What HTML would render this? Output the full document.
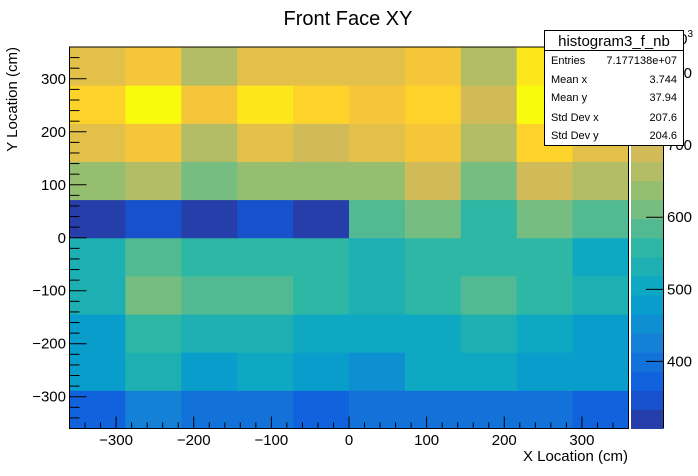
<!DOCTYPE html>
<html><head><meta charset="utf-8">
<style>
body{margin:0;background:#fff;}
svg{display:block;font-family:"Liberation Sans",Arial,sans-serif;}
</style></head>
<body>
<svg id="chart" width="698" height="476" viewBox="0 0 698 476">
  <text x="348" y="25" font-size="20" text-anchor="middle">Front Face XY</text>
  <g id="cells"></g>
  <g id="cbar"></g>
  <g id="axes"></g>
  <text x="628" y="461" font-size="15" text-anchor="end">X Location (cm)</text>
  <text transform="translate(17,47) rotate(-90)" font-size="15" text-anchor="end">Y Location (cm)</text>
  <text x="662" y="44" font-size="15">×10<tspan font-size="10" dy="-7">3</tspan></text>
  <g>
    <rect x="544.5" y="30.5" width="139" height="115" fill="#fff" stroke="#000" stroke-width="1"/>
    <line x1="544.5" y1="50.5" x2="683.5" y2="50.5" stroke="#000"/>
    <text x="614" y="46" font-size="15" text-anchor="middle">histogram3_f_nb</text>
    <g font-size="11">
      <text x="551" y="64">Entries</text><text x="677" y="64" text-anchor="end">7.177138e+07</text>
      <text x="551" y="83">Mean x</text><text x="677" y="83" text-anchor="end">3.744</text>
      <text x="551" y="101">Mean y</text><text x="677" y="101" text-anchor="end">37.94</text>
      <text x="551" y="121">Std Dev x</text><text x="677" y="121" text-anchor="end">207.6</text>
      <text x="551" y="139">Std Dev y</text><text x="677" y="139" text-anchor="end">204.6</text>
    </g>
  </g>
</svg>
<script>
const xEdges = [-360,-288,-216,-144,-72,0,72,144,216,288,360];
const yEdges = [-360,-288,-216,-144,-72,0,72,144,216,288,360];
// bin contents (x10^3), rows from bottom (y=-360) to top
const row0 = [373,426,400,400,373,400,400,400,400,373];
const row1 = [479,532,479,505,479,452,505,505,479,479];
const row2 = [479,558,532,532,505,505,505,532,505,479];
const row3 = [532,611,585,585,558,532,558,585,558,532];
const row4 = [532,585,558,558,558,532,558,558,558,505];
const row5 = [320,347,320,347,320,585,611,558,611,585];
const row6 = [638,664,611,638,638,638,691,611,691,664];
const row7 = [717,744,664,717,691,717,744,664,770,717];
const row8 = [770,823,744,796,770,744,770,691,823,717];
const row9 = [717,744,664,717,717,717,744,664,796,717];
const rows = [row0,row1,row2,row3,row4,row5,row6,row7,row8,row9];
const zRange = [307,836];
const xTicks = [-300,-200,-100,0,100,200,300];
const yTicks = [-300,-200,-100,0,100,200,300];
const zTicks = [400,500,600,700,800];

const L=69.5,R=628.5,T=47,B=428.5;
const sx=v=>L+(v+360)/720*(R-L);
const sy=v=>B-(v+360)/720*(B-T);
const nLev=20;
const sz=v=>B-(v-zRange[0])/(zRange[1]-zRange[0])*(B-T);

const st=[0,0.125,0.25,0.375,0.5,0.625,0.75,0.875,1];
const rr=[0.2082,0.0592,0.0780,0.0232,0.1802,0.5301,0.8186,0.9956,0.9764];
const gg=[0.1664,0.3599,0.5041,0.6419,0.7178,0.7492,0.7328,0.7862,0.9832];
const bb=[0.5293,0.8684,0.8385,0.7914,0.6425,0.4662,0.3499,0.1968,0.0539];
function bird(t){t=Math.max(0,Math.min(1,t));let i=0;while(i<7&&t>st[i+1])i++;const f=(t-st[i])/(st[i+1]-st[i]);
 const c=a=>Math.round(255*(a[i]+(a[i+1]-a[i])*f));return `rgb(${c(rr)},${c(gg)},${c(bb)})`;}
function levColor(v){let lev=Math.floor((v-zRange[0])/(zRange[1]-zRange[0])*nLev);lev=Math.max(0,Math.min(nLev-1,lev));return bird((lev+1)/nLev);}

const NS="http://www.w3.org/2000/svg";
function mk(tag,attrs,parent){const e=document.createElementNS(NS,tag);for(const k in attrs)e.setAttribute(k,attrs[k]);parent.appendChild(e);return e;}
const cells=document.getElementById('cells');
rows.forEach((row,j)=>row.forEach((v,i)=>{
  const x0=sx(xEdges[i]),x1=sx(xEdges[i+1]),y0=sy(yEdges[j+1]),y1=sy(yEdges[j]);
  const r=mk('rect',{x:x0,y:y0,width:x1-x0+0.5,height:y1-y0+0.5,fill:levColor(v)},cells);
  
  
}));
const cbar=document.getElementById('cbar');
for(let k=0;k<nLev;k++){
  const z0=zRange[0]+k*(zRange[1]-zRange[0])/nLev,z1=zRange[0]+(k+1)*(zRange[1]-zRange[0])/nLev;
  const r=mk('rect',{x:631,y:sz(z1),width:32,height:sz(z0)-sz(z1)+0.5,fill:bird((k+1)/nLev)},cbar);
  
  
}
mk('line',{x1:663.5,y1:T,x2:663.5,y2:B,stroke:'#000'},cbar);
zTicks.forEach(z=>{const y=sz(z);
  mk('line',{x1:646,y1:y,x2:663.5,y2:y,stroke:'#000'},cbar);
  const t=mk('text',{x:667,y:y+5,'font-size':15},cbar);t.textContent=z;
  
  
});
const ax=document.getElementById('axes');
mk('rect',{x:L,y:T,width:R-L,height:B-T,fill:'none',stroke:'#000'},ax);
for(let v=-360;v<=360;v+=20){const x=sx(v);const major=v%100===0;
  mk('line',{x1:x,y1:B,x2:x,y2:B-(major?12:6),stroke:'#000'},ax);}
for(let v=-360;v<=360;v+=20){const y=sy(v);const major=v%100===0;
  mk('line',{x1:L,y1:y,x2:L+(major?17:10),y2:y,stroke:'#000'},ax);}
xTicks.forEach(v=>{const t=mk('text',{x:sx(v),y:445,'font-size':15,'text-anchor':'middle'},ax);t.textContent=String(v).replace('-','\u2212');
  
  });
yTicks.forEach(v=>{const t=mk('text',{x:66,y:sy(v)+5,'font-size':15,'text-anchor':'end'},ax);t.textContent=String(v).replace('-','\u2212');
  
  });
</script>
</body></html>
